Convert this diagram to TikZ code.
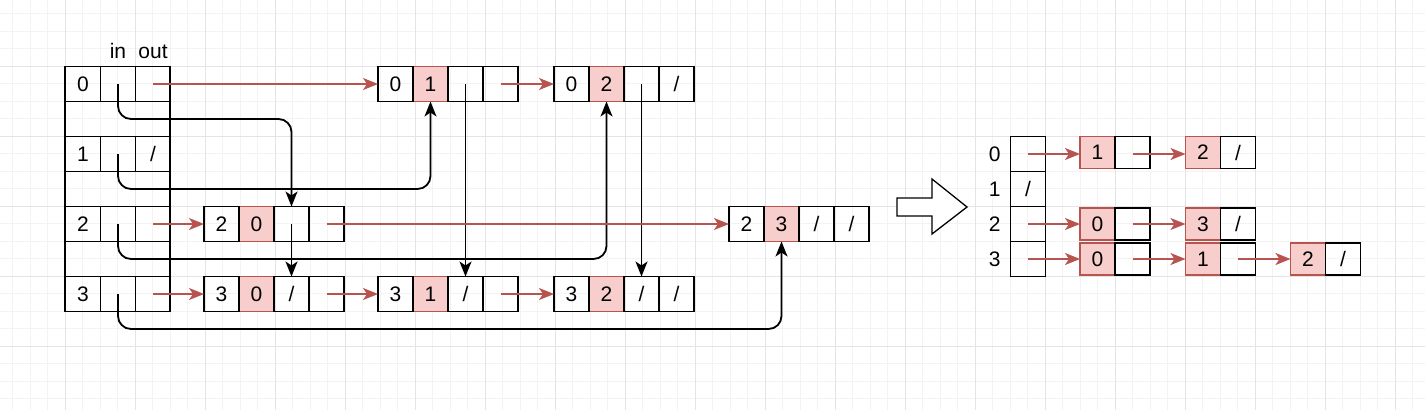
\documentclass[tikz,border=0pt]{standalone}
\usepackage{fontspec}
\setmainfont{Liberation Sans}
\usepackage{xcolor}
\usepackage{tikz}
\usetikzlibrary{positioning,calc,arrows.meta}

\definecolor{redline}{HTML}{B85450}
\definecolor{pinkfill}{HTML}{F8CECC}
\definecolor{gridminor}{HTML}{F3F3F3}
\definecolor{gridmajor}{HTML}{E4E4E4}

\tikzset{
  cell/.style={draw, rectangle, line width=1.8pt, minimum width=35pt, minimum height=35pt, inner sep=0pt, font=\fontsize{21}{25}\selectfont},
  valcell/.style={cell, fill=pinkfill, draw=redline},
  rcell/.style={cell, minimum height=32pt},
  rvalcell/.style={rcell, fill=pinkfill, draw=redline},
  lbl/.style={inner sep=0pt, font=\fontsize{21}{25}\selectfont},
  redarrow/.style={draw=redline, line width=1.8pt, -{Stealth[length=15pt,width=12pt,inset=4pt]}},
  ptrarrow/.style={draw=black, line width=1.8pt, rounded corners=13pt, -{Stealth[length=15pt,width=12pt,inset=4pt]}}
}

\begin{document}
\begin{tikzpicture}[x=1pt, y=-1pt, node distance=0cm, outer sep=0pt]
    \useasboundingbox (0,0) rectangle (1425,410);
    % background grid
    \fill[white] (0,0) rectangle (1425,410);
    \foreach \gx in {12.5,30,...,1425} \draw[gridminor, line width=1pt] (\gx,0) -- (\gx,410);
    \foreach \gy in {13.5,31,...,410} \draw[gridminor, line width=1pt] (0,\gy) -- (1425,\gy);
    \foreach \gx in {65,135,...,1425} \draw[gridmajor, line width=1pt] (\gx,0) -- (\gx,410);
    \foreach \gy in {66,136,...,410} \draw[gridmajor, line width=1pt] (0,\gy) -- (1425,\gy);

    % head table
    \node [draw, rectangle, line width=1.8pt, minimum width=105pt, minimum height=245pt] (tab) at (117.5,189) {};
    \node [cell] (t0k) at (83,84) {0};
    \node [cell, right=of t0k] (t0i) {};
    \node [cell, right=of t0i] (t0o) {};
    \node [cell] (t1k) at (83,154) {1};
    \node [cell, right=of t1k] (t1i) {};
    \node [cell, right=of t1i] (t1o) {/};
    \node [cell] (t2k) at (83,224) {2};
    \node [cell, right=of t2k] (t2i) {};
    \node [cell, right=of t2i] (t2o) {};
    \node [cell] (t3k) at (83,294) {3};
    \node [cell, right=of t3k] (t3i) {};
    \node [cell, right=of t3i] (t3o) {};
    \node [lbl, above=8pt of t0i] {in};
    \node [lbl, above=8pt of t0o] {out};

    % edge nodes
    \node [valcell] (e01v) at (430.5,84) {1};
    \node [cell, left=of e01v] (e01k) {0};
    \node [cell, right=of e01v] (e01p) {};
    \node [cell, right=of e01p] (e01n) {};
    \node [valcell] (e02v) at (606.5,84) {2};
    \node [cell, left=of e02v] (e02k) {0};
    \node [cell, right=of e02v] (e02p) {};
    \node [cell, right=of e02p] (e02n) {/};

    \node [valcell] (e20v) at (256.5,224) {0};
    \node [cell, left=of e20v] (e20k) {2};
    \node [cell, right=of e20v] (e20p) {};
    \node [cell, right=of e20p] (e20n) {};
    \node [valcell] (e23v) at (781.5,224) {3};
    \node [cell, left=of e23v] (e23k) {2};
    \node [cell, right=of e23v] (e23p) {/};
    \node [cell, right=of e23p] (e23n) {/};

    \node [valcell] (e30v) at (256.5,294) {0};
    \node [cell, left=of e30v] (e30k) {3};
    \node [cell, right=of e30v] (e30p) {/};
    \node [cell, right=of e30p] (e30n) {};
    \node [valcell] (e31v) at (430.5,294) {1};
    \node [cell, left=of e31v] (e31k) {3};
    \node [cell, right=of e31v] (e31p) {/};
    \node [cell, right=of e31p] (e31n) {};
    \node [valcell] (e32v) at (606.5,294) {2};
    \node [cell, left=of e32v] (e32k) {3};
    \node [cell, right=of e32v] (e32p) {/};
    \node [cell, right=of e32p] (e32n) {/};

    % in pointers
    \draw [ptrarrow] (t0i.center) -- ++(0,35) -| (e20p.north);
    \draw [ptrarrow] (t1i.center) -- ++(0,35) -| (e01v.south);
    \draw [ptrarrow] (t2i.center) -- ++(0,35) -| (e02v.south);
    \draw [ptrarrow] (t3i.center) -- ++(0,35) -| (e23v.south);
    \draw [ptrarrow] (e20p.center) -- (e30p.north);
    \draw [ptrarrow] (e01p.center) -- (e31p.north);
    \draw [ptrarrow] (e02p.center) -- (e32p.north);

    % out pointers
    \draw [redarrow] (t0o.center) -- (e01k.west);
    \draw [redarrow] (e01n.center) -- (e02k.west);
    \draw [redarrow] (t2o.center) -- (e20k.west);
    \draw [redarrow] (e20n.center) -- (e23k.west);
    \draw [redarrow] (t3o.center) -- (e30k.west);
    \draw [redarrow] (e30n.center) -- (e31k.west);
    \draw [redarrow] (e31n.center) -- (e32k.west);

    % big arrow
    \draw [line width=1.3pt, fill=white] (897,198) -- (932,198) -- (932,179) -- (967,207) -- (932,234) -- (932,216) -- (897,216) -- cycle;

    % adjacency list
    \node [cell] (r0) at (1028,154) {};
    \node [cell, below=of r0] (r1) {/};
    \node [cell, below=of r1] (r2) {};
    \node [cell, below=of r2] (r3) {};
    \node [lbl, left=10pt of r0] {0};
    \node [lbl, left=10pt of r1] {1};
    \node [lbl, left=10pt of r2] {2};
    \node [lbl, left=10pt of r3] {3};

    \node [rvalcell] (s01v) at (1097.5,152.5) {1};
    \node [rcell, right=of s01v] (s01n) {};
    \node [rvalcell] (s02v) at (1203,152.5) {2};
    \node [rcell, right=of s02v] (s02n) {/};
    \node [rvalcell] (s20v) at (1097.5,224) {0};
    \node [rcell, right=of s20v] (s20n) {};
    \node [rvalcell] (s23v) at (1203,224) {3};
    \node [rcell, right=of s23v] (s23n) {/};
    \node [rvalcell] (s30v) at (1097.5,259) {0};
    \node [rcell, right=of s30v] (s30n) {};
    \node [rvalcell] (s31v) at (1203,259) {1};
    \node [rcell, right=of s31v] (s31n) {};
    \node [rvalcell] (s32v) at (1308,259) {2};
    \node [rcell, right=of s32v] (s32n) {/};

    \draw [redarrow] (r0.center) -- (r0.center -| s01v.west);
    \draw [redarrow] (s01n.center |- r0.center) -- (r0.center -| s02v.west);
    \draw [redarrow] (r2.center) -- (s20v.west);
    \draw [redarrow] (s20n.center) -- (s23v.west);
    \draw [redarrow] (r3.center) -- (s30v.west);
    \draw [redarrow] (s30n.center) -- (s31v.west);
    \draw [redarrow] (s31n.center) -- (s32v.west);
\end{tikzpicture}
\end{document}
